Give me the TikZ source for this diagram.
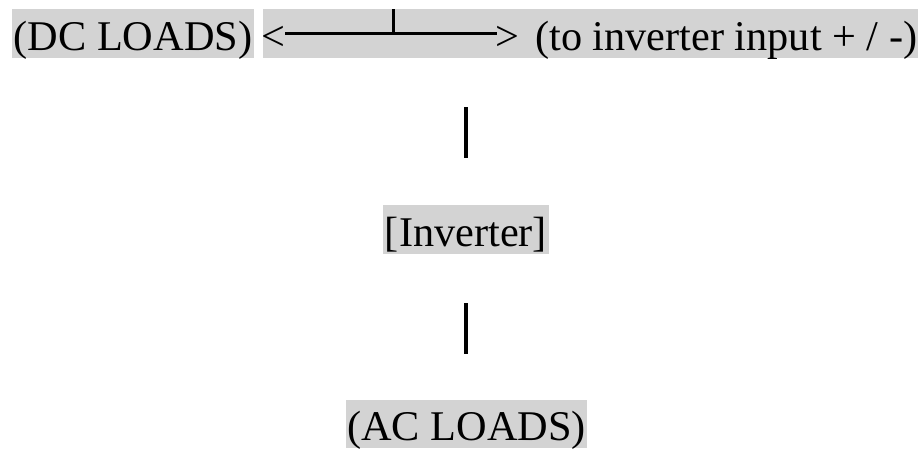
\documentclass[tikz,border=0pt]{standalone}
\usepackage{fontspec}
\setmainfont{Liberation Serif}
\usetikzlibrary{backgrounds}
\definecolor{hl}{RGB}{211,211,211}
\begin{document}
\begin{tikzpicture}[x=1pt,y=-1pt,
  txt/.style={inner sep=0pt,text height=41pt,text depth=8pt,font=\fontsize{42.3}{50}\selectfont},
  box/.style={txt,fill=hl,inner xsep=1.5pt},
  wire/.style={line width=3pt},
  bar/.style={line width=4pt}]
\useasboundingbox (0,0) rectangle (923,448);
% top row
\node[box,anchor=base west] (dc) at (12,50) {(DC LOADS)};
\node[txt,anchor=base west] (lt) at (261,50) {<};
\node[txt,anchor=base east] (inp) at (917.5,50) {(to inverter input + / -)};
\node[txt,anchor=base west] (gt) at (495.5,50) {>};
\begin{scope}[on background layer]
  \fill[hl] (263,9) rectangle (918,58);
\end{scope}
\coordinate (ls) at (285,33);
\coordinate (le) at (497,33);
\coordinate (tj) at (393,33);
\coordinate (tt) at (393,9);
\draw[wire] (ls) -- (le);
\draw[wire] (tj) -- (tt);
% middle
\node[box,anchor=base] (inv) at (466,246) {[Inverter]};
\node[box,anchor=base,text depth=7pt] (ac) at (466.5,440.5) {(AC LOADS)};
\coordinate (b1t) at (466,107);
\coordinate (b1b) at (466,158);
\coordinate (b2t) at (466,303);
\coordinate (b2b) at (466,354);
\draw[bar] (b1t) -- (b1b);
\draw[bar] (b2t) -- (b2b);
\end{tikzpicture}
\end{document}
